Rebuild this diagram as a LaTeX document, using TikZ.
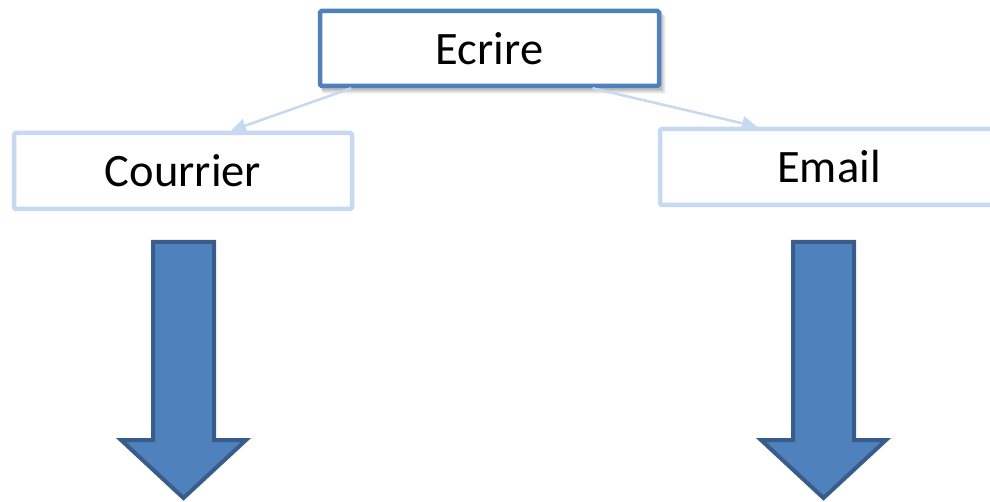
\documentclass[tikz,border=0pt]{standalone}
\usepackage{fontspec}
\setmainfont{Carlito}
\usetikzlibrary{arrows.meta,calc}
\definecolor{accent}{HTML}{4F81BD}
\definecolor{lightacc}{HTML}{C6D9F1}
\definecolor{arrline}{HTML}{385D8A}
\tikzset{
  lbl/.style={font=\fontsize{46.5}{55}\selectfont, text=black},
  mainbox/.style={lbl, draw=accent, line width=4.5pt, fill=white, rounded corners=1.5pt, minimum width=339pt, minimum height=75pt, inner sep=0pt},
  subbox/.style={lbl, draw=lightacc, line width=4.5pt, fill=white, rounded corners=1.5pt, minimum width=338pt, minimum height=76pt, inner sep=0pt},
  link/.style={draw=lightacc, line width=2.5pt, -{Triangle[length=15pt,width=14pt]}},
  blockarrow/.style={fill=accent, draw=arrline, line width=4pt, line join=miter},
}
\begin{document}
\begin{tikzpicture}[x=1pt,y=-1pt]
\useasboundingbox (0,0) rectangle (990,502);
\clip (0,0) rectangle (990,502);
% soft shadow of the top box
\foreach \d/\o in {7/0.04,6/0.05,5/0.06,4/0.07,3/0.08}
  \fill[black, opacity=\o] (320+\d*0.4,9+\d) rectangle (660+\d*0.8,87+\d);
\node[mainbox] (ecrire) at (489.5,48.5) {Ecrire};
\node[subbox] (courrier) at (183,171) {Courrier};
\node[subbox] (email) at (829,167) {Email};
\draw[link] ($(ecrire.south west)!0.097!(ecrire.south east)$) -- ($(courrier.north west)!0.64!(courrier.north east)$);
\draw[link] ($(ecrire.south west)!0.80!(ecrire.south east)$) -- ($(email.north west)!0.29!(email.north east)$);
% block arrows
\draw[blockarrow] (153,242) -- (214,242) -- (214,440) -- (246,440) -- (183.5,498) -- (121,440) -- (153,440) -- cycle;
\draw[blockarrow] (793,242) -- (854,242) -- (854,440) -- (886,440) -- (823.5,498) -- (761,440) -- (793,440) -- cycle;
\end{tikzpicture}
\end{document}
